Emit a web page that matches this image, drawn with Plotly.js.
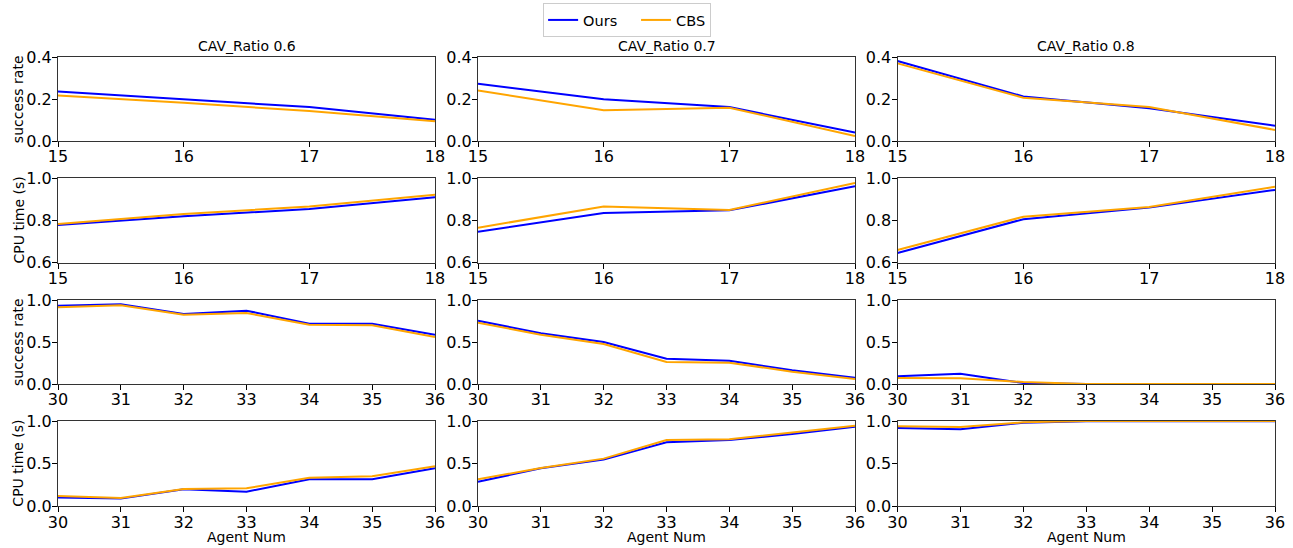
<!DOCTYPE html>
<html>
<head>
<meta charset="utf-8">
<script src="https://cdn.plot.ly/plotly-3.0.1.min.js"></script>
<style>html,body{margin:0;padding:0;background:#fff;}#chart{width:1293px;height:548px;}</style>
</head>
<body>
<div id="chart"></div>
<script>
// ---- data ----
const agentsSmall = [15, 16, 17, 18];
const agentsLarge = [30, 31, 32, 33, 34, 35, 36];
const ratioTitles = ["CAV_Ratio 0.6", "CAV_Ratio 0.7", "CAV_Ratio 0.8"];
const seriesNames = ["Ours", "CBS"];

// row 1: success rate, small agent numbers
const succSmallOurs = [[0.236, 0.199, 0.162, 0.102], [0.274, 0.199, 0.162, 0.041], [0.382, 0.213, 0.157, 0.073]];
const succSmallCBS  = [[0.218, 0.183, 0.143, 0.094], [0.241, 0.147, 0.159, 0.024], [0.371, 0.207, 0.162, 0.053]];
// row 2: CPU time, small agent numbers
const cpuSmallOurs = [[0.779, 0.820, 0.855, 0.910], [0.747, 0.836, 0.848, 0.962], [0.646, 0.806, 0.861, 0.945]];
const cpuSmallCBS  = [[0.783, 0.831, 0.866, 0.922], [0.766, 0.866, 0.850, 0.978], [0.660, 0.818, 0.864, 0.960]];
// row 3: success rate, large agent numbers
const succLargeOurs = [[0.933, 0.948, 0.833, 0.873, 0.718, 0.718, 0.587], [0.754, 0.603, 0.500, 0.302, 0.278, 0.163, 0.075], [0.091, 0.123, 0.012, 0.0, 0.0, 0.0, 0.0]];
const succLargeCBS  = [[0.913, 0.937, 0.825, 0.845, 0.706, 0.698, 0.560], [0.730, 0.587, 0.476, 0.262, 0.254, 0.147, 0.060], [0.071, 0.067, 0.024, 0.0, 0.0, 0.0, 0.0]];
// row 4: CPU time, large agent numbers
const cpuLargeOurs = [[0.102, 0.090, 0.199, 0.172, 0.316, 0.316, 0.445], [0.289, 0.445, 0.547, 0.750, 0.777, 0.848, 0.934], [0.918, 0.902, 0.980, 0.996, 0.998, 0.998, 0.998]];
const cpuLargeCBS  = [[0.121, 0.098, 0.203, 0.211, 0.336, 0.352, 0.469], [0.316, 0.449, 0.559, 0.777, 0.785, 0.863, 0.945], [0.9375, 0.930, 0.984, 1.0, 1.0, 1.0, 1.0]];

const rowLabels = ["success rate", "CPU time (s)", "success rate", "CPU time (s)"];
const rowRanges = [[0, 0.4], [0.6, 1.0], [0, 1], [0, 1]];
const rowTicks = [[0, 0.2, 0.4], [0.6, 0.8, 1.0], [0, 0.5, 1.0], [0, 0.5, 1.0]];
const xLabel = "Agent Num";

// ---- layout geometry ----
const W = 1293, H = 548;
const colPx = [[58, 435], [478, 855], [897.5, 1275]];
const rowPx = [[57.3, 141], [178.3, 262.7], [300, 384], [421, 506.3]];

const colors = {Ours: "#0000ff", CBS: "#ffa500"};
const fontFam = "DejaVu Sans, sans-serif";

const rowsData = [
  {x: agentsSmall, ours: succSmallOurs, cbs: succSmallCBS},
  {x: agentsSmall, ours: cpuSmallOurs, cbs: cpuSmallCBS},
  {x: agentsLarge, ours: succLargeOurs, cbs: succLargeCBS},
  {x: agentsLarge, ours: cpuLargeOurs, cbs: cpuLargeCBS}
];

const traces = [];
const layout = {
  width: W, height: H,
  margin: {l: 0, r: 0, t: 0, b: 0},
  paper_bgcolor: "#fff", plot_bgcolor: "#fff",
  font: {family: fontFam, color: "#000", size: 16},
  showlegend: true,
  legend: {
    orientation: "h", x: 0.485, xanchor: "center", y: 1 - 3 / H, yanchor: "top",
    bordercolor: "#cccccc", borderwidth: 1, font: {size: 14.5, family: fontFam},
    itemwidth: 30, tracegroupgap: 0
  },
  annotations: []
};

for (let r = 0; r < 4; r++) {
  for (let c = 0; c < 3; c++) {
    const i = r * 3 + c + 1;
    const xa = i === 1 ? "x" : "x" + i;
    const ya = i === 1 ? "y" : "y" + i;
    const rd = rowsData[r];
    traces.push({
      x: rd.x, y: rd.ours[c], xaxis: xa, yaxis: ya, type: "scatter", mode: "lines",
      name: seriesNames[0] + "   ", legendgroup: seriesNames[0], showlegend: i === 1,
      line: {color: colors.Ours, width: 2}
    });
    traces.push({
      x: rd.x, y: rd.cbs[c], xaxis: xa, yaxis: ya, type: "scatter", mode: "lines",
      name: seriesNames[1], legendgroup: seriesNames[1], showlegend: i === 1,
      line: {color: colors.CBS, width: 2}
    });
    const xKey = i === 1 ? "xaxis" : "xaxis" + i;
    const yKey = i === 1 ? "yaxis" : "yaxis" + i;
    layout[xKey] = {
      domain: [colPx[c][0] / W, colPx[c][1] / W],
      anchor: ya,
      range: [rd.x[0], rd.x[rd.x.length - 1]],
      tickvals: rd.x, ticktext: rd.x.map(String),
      ticks: "outside", ticklen: 5, tickwidth: 1, tickcolor: "#000",
      ticklabelstandoff: -4,
      showline: true, linecolor: "#333", linewidth: 1, mirror: true,
      showgrid: false, zeroline: false,
      tickfont: {size: 16, family: fontFam, color: "#000"}
    };
    layout[yKey] = {
      domain: [1 - rowPx[r][1] / H, 1 - rowPx[r][0] / H],
      anchor: xa,
      range: rowRanges[r],
      tickvals: rowTicks[r], tickformat: ".1f",
      ticks: "outside", ticklen: 5, tickwidth: 1, tickcolor: "#000",
      ticklabelstandoff: -3,
      showline: true, linecolor: "#333", linewidth: 1, mirror: true,
      showgrid: false, zeroline: false,
      tickfont: {size: 16, family: fontFam, color: "#000"}
    };
    if (c === 0) {
      layout.annotations.push({
        text: rowLabels[r], xref: "paper", yref: "paper",
        x: 18 / W, y: 1 - (rowPx[r][0] + rowPx[r][1]) / 2 / H,
        xanchor: "center", yanchor: "middle", textangle: -90, showarrow: false,
        font: {size: 14, family: fontFam, color: "#000"}
      });
    }
    if (r === 0) {
      layout.annotations.push({
        text: ratioTitles[c], xref: "paper", yref: "paper",
        x: (colPx[c][0] + colPx[c][1]) / 2 / W, y: 1 - 46 / H,
        xanchor: "center", yanchor: "middle", showarrow: false,
        font: {size: 14, family: fontFam, color: "#000"}
      });
    }
    if (r === 3) {
      layout.annotations.push({
        text: xLabel, xref: "paper", yref: "paper",
        x: (colPx[c][0] + colPx[c][1]) / 2 / W, y: 1 - 537 / H,
        xanchor: "center", yanchor: "middle", showarrow: false,
        font: {size: 14, family: fontFam, color: "#000"}
      });
    }
  }
}

Plotly.newPlot("chart", traces, layout, {displayModeBar: false, staticPlot: true});
</script>
</body>
</html>
